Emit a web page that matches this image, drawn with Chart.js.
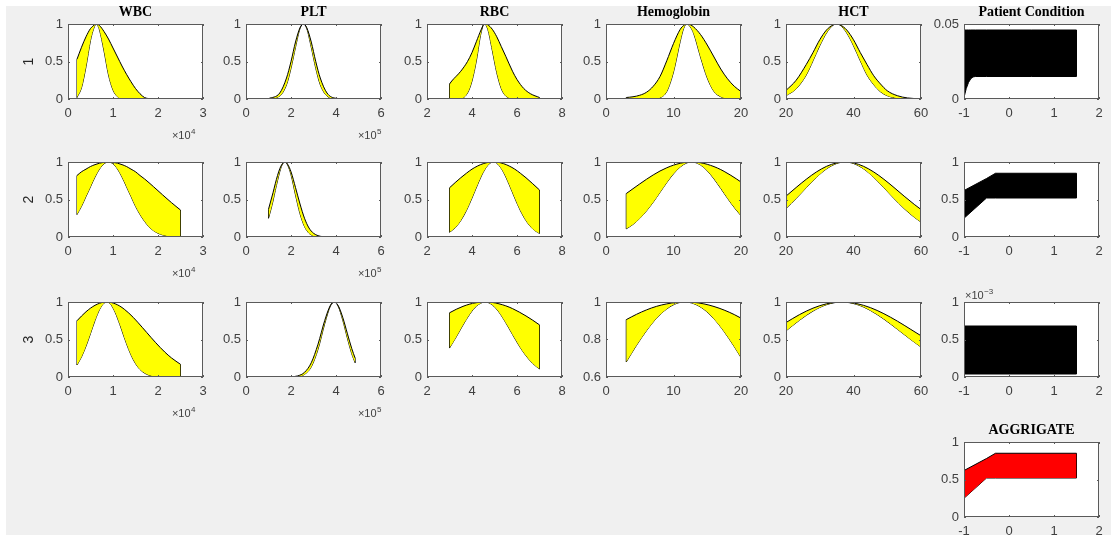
<!DOCTYPE html>
<html>
<head>
<meta charset="utf-8">
<script src="https://cdn.jsdelivr.net/npm/chart.js@4.4.1/dist/chart.umd.min.js"></script>
<style>
html, body { margin: 0; padding: 0; background: #fff; overflow: hidden; width: 1115px; height: 535px; }
#fig { position: absolute; left: 6px; top: 6px; width: 1105px; height: 529px; background: #f0f0f0; }
canvas { position: absolute; }
</style>
</head>
<body>
<div id="fig"></div>
<script>
// ---- row 1 ----
const wbc1X = [2000, 3000, 4000, 5000, 5500, 6000, 6300, 6600, 7000, 8000, 9000, 10000, 11000, 12000, 13000, 14000, 15000, 16000, 17000, 18000, 20000, 22000, 25000];
const wbc1Up = [0.53, 0.69, 0.83, 0.94, 0.97, 0.995, 1, 0.995, 0.98, 0.9, 0.8, 0.68, 0.56, 0.44, 0.33, 0.23, 0.14, 0.07, 0.02, 0.005, 0, 0, 0];
const wbc1Lo = [0.02, 0.15, 0.43, 0.78, 0.9, 0.98, 1, 0.98, 0.92, 0.64, 0.32, 0.12, 0.03, 0, 0, 0, 0, 0, 0, 0, 0, 0, 0];

const plt1X = [100000, 150000, 180000, 200000, 220000, 240000, 255000, 270000, 290000, 310000, 330000, 360000, 400000, 450000, 480000];
const plt1Up = [0.004, 0.08, 0.28, 0.5, 0.76, 0.95, 1, 0.95, 0.76, 0.5, 0.28, 0.08, 0.009, 0, 0];
const plt1Lo = [0, 0.04, 0.19, 0.41, 0.69, 0.94, 1, 0.94, 0.69, 0.41, 0.19, 0.04, 0.002, 0, 0];

const rbc1X = [3, 3.1, 3.5, 3.8, 4, 4.2, 4.4, 4.55, 4.7, 4.9, 5.1, 5.3, 5.5, 5.8, 6, 6.3, 6.6, 7];
const rbc1Up = [0.2, 0.24, 0.37, 0.5, 0.62, 0.77, 0.92, 1, 0.99, 0.93, 0.83, 0.7, 0.57, 0.37, 0.26, 0.14, 0.07, 0.02];
const rbc1Lo = [0, 0, 0.005, 0.08, 0.24, 0.52, 0.88, 1, 0.93, 0.65, 0.35, 0.14, 0.04, 0.005, 0, 0, 0, 0];

const hem1X = [3, 4, 5, 6, 7, 8, 9, 10, 11, 11.5, 12, 12.5, 13, 14, 15, 16, 17, 18, 19, 20];
const hem1Up = [0.02, 0.03, 0.05, 0.09, 0.17, 0.3, 0.51, 0.74, 0.93, 0.98, 1, 0.99, 0.96, 0.86, 0.72, 0.56, 0.4, 0.27, 0.17, 0.1];
const hem1Lo = [0, 0, 0, 0, 0.002, 0.017, 0.1, 0.36, 0.77, 0.94, 1, 0.96, 0.87, 0.56, 0.28, 0.1, 0.03, 0.006, 0, 0];

const hct1X = [20, 23, 26, 28, 30, 32, 34, 35, 36, 38, 40, 42, 44, 46, 48, 50, 53, 56, 60];
const hct1Up = [0.114, 0.25, 0.46, 0.62, 0.79, 0.92, 0.99, 1, 0.99, 0.92, 0.79, 0.62, 0.46, 0.31, 0.2, 0.11, 0.044, 0.014, 0.002];
const hct1Lo = [0.044, 0.135, 0.32, 0.51, 0.71, 0.88, 0.986, 1, 0.986, 0.88, 0.71, 0.51, 0.32, 0.19, 0.096, 0.044, 0.011, 0.002, 0];

const pc1X = [-1, -0.95, -0.9, -0.85, -0.8, -0.75, -0.5, 0, 0.5, 1, 1.5];
const pc1Up = [0.046, 0.046, 0.046, 0.046, 0.046, 0.046, 0.046, 0.046, 0.046, 0.046, 0.046];
const pc1Lo = [0.001, 0.007, 0.011, 0.0135, 0.0147, 0.015, 0.015, 0.015, 0.015, 0.015, 0.015];

// ---- row 2 ----
const wbc2X = [2000, 3000, 4000, 5000, 6000, 7000, 8000, 9000, 10000, 11000, 12000, 13000, 14000, 15000, 16000, 17000, 18000, 19000, 20000, 21000, 22000, 23000, 24000, 25000];
const wbc2Up = [0.82, 0.87, 0.905, 0.94, 0.965, 0.984, 0.996, 1, 0.996, 0.984, 0.965, 0.94, 0.905, 0.87, 0.82, 0.775, 0.724, 0.671, 0.617, 0.563, 0.51, 0.458, 0.408, 0.36];
const wbc2Lo = [0.3, 0.41, 0.54, 0.67, 0.8, 0.906, 0.976, 1, 0.976, 0.906, 0.8, 0.67, 0.54, 0.41, 0.3, 0.21, 0.135, 0.085, 0.05, 0.028, 0.015, 0.008, 0.004, 0.002];

const plt2X = [100000, 110000, 120000, 130000, 140000, 150000, 160000, 173000, 185000, 200000, 220000, 240000, 260000, 280000, 300000, 320000, 340000, 380000, 420000, 480000];
const plt2Up = [0.37, 0.48, 0.59, 0.71, 0.82, 0.91, 0.97, 1, 0.97, 0.87, 0.66, 0.44, 0.25, 0.12, 0.05, 0.018, 0.005, 0, 0, 0];
const plt2Lo = [0.25, 0.36, 0.48, 0.62, 0.75, 0.87, 0.96, 1, 0.96, 0.83, 0.56, 0.31, 0.14, 0.05, 0.015, 0.003, 0, 0, 0, 0];

const rbc2X = [3, 3.25, 3.5, 3.75, 4, 4.25, 4.5, 4.75, 4.95, 5.15, 5.4, 5.65, 5.9, 6.15, 6.4, 6.7, 7];
const rbc2Up = [0.656, 0.725, 0.79, 0.85, 0.905, 0.947, 0.978, 0.996, 1, 0.996, 0.978, 0.947, 0.905, 0.85, 0.79, 0.71, 0.627];
const rbc2Lo = [0.063, 0.123, 0.218, 0.352, 0.52, 0.7, 0.863, 0.971, 1, 0.971, 0.863, 0.7, 0.52, 0.352, 0.218, 0.108, 0.047];

const hem2X = [3, 4, 5, 6, 7, 8, 9, 10, 11, 12, 12.7, 13.5, 14.5, 15.5, 16.5, 17.5, 18.5, 19.3, 20];
const hem2Up = [0.579, 0.644, 0.708, 0.77, 0.828, 0.88, 0.923, 0.958, 0.983, 0.997, 1, 0.996, 0.981, 0.955, 0.92, 0.875, 0.822, 0.776, 0.733];
const hem2Lo = [0.109, 0.168, 0.248, 0.348, 0.465, 0.595, 0.725, 0.842, 0.934, 0.989, 1, 0.985, 0.927, 0.832, 0.712, 0.582, 0.453, 0.359, 0.285];

const hct2X = [20, 23, 26, 29, 32, 35, 37.5, 40, 43, 46, 49, 52, 55, 58, 60];
const hct2Up = [0.545, 0.66, 0.77, 0.867, 0.942, 0.988, 1, 0.988, 0.942, 0.867, 0.77, 0.66, 0.545, 0.435, 0.367];
const hct2Lo = [0.379, 0.513, 0.657, 0.795, 0.908, 0.98, 1, 0.98, 0.908, 0.795, 0.657, 0.513, 0.379, 0.264, 0.2];

const pc2X = [-1, -0.5, -0.3, 1.5];
const pc2Up = [0.62, 0.78, 0.85, 0.85];
const pc2Lo = [0.25, 0.52, 0.52, 0.52];

// ---- row 3 ----
const wbc3X = [2000, 3000, 4000, 5000, 6000, 7000, 8000, 8600, 9500, 10500, 11500, 12500, 13500, 14500, 15500, 16500, 17500, 18500, 19500, 20500, 21500, 23000, 25000];
const wbc3Up = [0.75, 0.813, 0.87, 0.918, 0.956, 0.983, 0.998, 1, 0.995, 0.976, 0.946, 0.904, 0.853, 0.795, 0.73, 0.662, 0.593, 0.524, 0.457, 0.393, 0.333, 0.254, 0.169];
const wbc3Lo = [0.16, 0.268, 0.411, 0.58, 0.753, 0.898, 0.985, 1, 0.967, 0.859, 0.702, 0.528, 0.365, 0.232, 0.135, 0.073, 0.036, 0.016, 0.007, 0.003, 0, 0, 0];

const plt3X = [100000, 150000, 200000, 230000, 260000, 290000, 320000, 350000, 375000, 392000, 410000, 430000, 450000, 470000, 485000];
const plt3Up = [0, 0, 0.003, 0.015, 0.062, 0.19, 0.437, 0.755, 0.955, 1, 0.95, 0.794, 0.585, 0.379, 0.252];
const plt3Lo = [0, 0, 0.001, 0.006, 0.035, 0.135, 0.369, 0.712, 0.946, 1, 0.94, 0.758, 0.524, 0.31, 0.19];

const rbc3X = [3, 3.3, 3.6, 3.9, 4.2, 4.58, 4.9, 5.2, 5.5, 5.8, 6.1, 6.4, 6.7, 7];
const rbc3Up = [0.856, 0.903, 0.942, 0.972, 0.991, 1, 0.994, 0.976, 0.949, 0.912, 0.866, 0.814, 0.757, 0.695];
const rbc3Lo = [0.386, 0.535, 0.693, 0.838, 0.946, 1, 0.962, 0.864, 0.724, 0.567, 0.414, 0.283, 0.18, 0.107];

const hem3X = [3, 4.5, 6, 7.5, 9, 10.5, 11.7, 13, 14.5, 16, 17.5, 19, 20];
const hem3Up = [0.906, 0.934, 0.958, 0.977, 0.99, 0.998, 1, 0.998, 0.99, 0.976, 0.957, 0.933, 0.914];
const hem3Lo = [0.68, 0.768, 0.847, 0.914, 0.963, 0.993, 1, 0.991, 0.961, 0.91, 0.842, 0.762, 0.704];

const hct3X = [20, 24, 28, 32, 36.5, 41, 45, 49, 53, 57, 60];
const hct3Up = [0.726, 0.832, 0.918, 0.976, 1, 0.978, 0.925, 0.844, 0.745, 0.634, 0.55];
const hct3Lo = [0.615, 0.757, 0.879, 0.964, 1, 0.967, 0.887, 0.772, 0.637, 0.498, 0.4];

const pc3X = [-1, 1.5];
const pc3Up = [0.00068, 0.00068];
const pc3Lo = [0.00004, 0.00004];

// ---- aggregate ----
const aggX = [-1, -0.5, -0.3, 1.5];
const aggUp = [0.62, 0.78, 0.85, 0.85];
const aggLo = [0.25, 0.52, 0.52, 0.52];

// layout of the subplot grid (pixel positions of the axes boxes)
const colLeft = [68, 246, 427, 606, 786, 964];
const rowTop = [24, 162, 302, 442];
const plotW = 135, plotH = 75;
const padL = 62, padT = 26, padB = 45;

const tickColor = '#404040';
const sans = '"Liberation Sans", Arial, sans-serif';
const fmt = v => String(Math.round(v * 1e6) / 1e6);

const xAxes = {
  WBC: { min: 0, max: 30000, step: 10000, scale: v => v / 1e4, exp: { base: '×10', sup: '4', dx: -8 } },
  PLT: { min: 0, max: 600000, step: 200000, scale: v => v / 1e5, exp: { base: '×10', sup: '5', dx: 0 } },
  RBC: { min: 2, max: 8, step: 2 },
  HGB: { min: 0, max: 20, step: 10 },
  HCT: { min: 20, max: 60, step: 20 },
  PC: { min: -1, max: 2, step: 1 }
};

const plots = [
  { row: 0, col: 0, title: 'WBC', axis: 'WBC', xs: wbc1X, up: wbc1Up, lo: wbc1Lo },
  { row: 0, col: 1, title: 'PLT', axis: 'PLT', xs: plt1X, up: plt1Up, lo: plt1Lo },
  { row: 0, col: 2, title: 'RBC', axis: 'RBC', xs: rbc1X, up: rbc1Up, lo: rbc1Lo },
  { row: 0, col: 3, title: 'Hemoglobin', axis: 'HGB', xs: hem1X, up: hem1Up, lo: hem1Lo },
  { row: 0, col: 4, title: 'HCT', axis: 'HCT', xs: hct1X, up: hct1Up, lo: hct1Lo },
  { row: 0, col: 5, title: 'Patient Condition', axis: 'PC', xs: pc1X, up: pc1Up, lo: pc1Lo, color: '#000000', yMax: 0.05, yStep: 0.05, straight: true },
  { row: 1, col: 0, axis: 'WBC', xs: wbc2X, up: wbc2Up, lo: wbc2Lo },
  { row: 1, col: 1, axis: 'PLT', xs: plt2X, up: plt2Up, lo: plt2Lo },
  { row: 1, col: 2, axis: 'RBC', xs: rbc2X, up: rbc2Up, lo: rbc2Lo },
  { row: 1, col: 3, axis: 'HGB', xs: hem2X, up: hem2Up, lo: hem2Lo },
  { row: 1, col: 4, axis: 'HCT', xs: hct2X, up: hct2Up, lo: hct2Lo },
  { row: 1, col: 5, axis: 'PC', xs: pc2X, up: pc2Up, lo: pc2Lo, color: '#000000', straight: true },
  { row: 2, col: 0, axis: 'WBC', xs: wbc3X, up: wbc3Up, lo: wbc3Lo },
  { row: 2, col: 1, axis: 'PLT', xs: plt3X, up: plt3Up, lo: plt3Lo },
  { row: 2, col: 2, axis: 'RBC', xs: rbc3X, up: rbc3Up, lo: rbc3Lo },
  { row: 2, col: 3, axis: 'HGB', xs: hem3X, up: hem3Up, lo: hem3Lo, yMin: 0.6, yStep: 0.2 },
  { row: 2, col: 4, axis: 'HCT', xs: hct3X, up: hct3Up, lo: hct3Lo },
  { row: 2, col: 5, axis: 'PC', xs: pc3X, up: pc3Up, lo: pc3Lo, color: '#000000', yMax: 0.001, yStep: 0.0005, yScale: v => v * 1000, yExp: { base: '×10', sup: '−3', top: true }, straight: true },
  { row: 3, col: 5, title: 'AGGRIGATE', axis: 'PC', xs: aggX, up: aggUp, lo: aggLo, color: '#ff0000', straight: true }
];

// white axes background, box with inward ticks, exponent labels
const framePlugin = {
  id: 'frame',
  beforeDraw(chart) {
    const a = chart.chartArea, ctx = chart.ctx;
    ctx.save();
    ctx.fillStyle = '#ffffff';
    ctx.fillRect(a.left, a.top, a.right - a.left, a.bottom - a.top);
    ctx.restore();
  },
  afterDraw(chart, args, opts) {
    const a = chart.chartArea, ctx = chart.ctx;
    const xs = chart.scales.x, ys = chart.scales.y;
    ctx.save();
    ctx.strokeStyle = '#5a5a5a';
    ctx.lineWidth = 1;
    ctx.beginPath();
    xs.ticks.forEach(t => {
      const p = Math.round(xs.getPixelForValue(t.value)) + 0.5;
      ctx.moveTo(p, a.bottom); ctx.lineTo(p, a.bottom - 2);
      ctx.moveTo(p, a.top); ctx.lineTo(p, a.top + 2);
    });
    ys.ticks.forEach(t => {
      const p = Math.round(ys.getPixelForValue(t.value)) + 0.5;
      ctx.moveTo(a.left, p); ctx.lineTo(a.left + 2, p);
      ctx.moveTo(a.right, p); ctx.lineTo(a.right - 2, p);
    });
    ctx.stroke();
    ctx.strokeRect(a.left + 0.5, a.top + 0.5, a.right - a.left - 1, a.bottom - a.top - 1);

    const labels = opts.labels || [];
    labels.forEach(e => {
      const baseFont = '11px ' + sans, supFont = '8px ' + sans;
      ctx.fillStyle = tickColor;
      ctx.textBaseline = 'middle';
      ctx.textAlign = 'left';
      ctx.font = baseFont;
      const wb = ctx.measureText(e.base).width;
      ctx.font = supFont;
      const ws = ctx.measureText(e.sup).width;
      let x0, yc;
      if (e.top) { x0 = a.left + 1; yc = a.top - 6; }
      else { x0 = a.right + e.dx - wb - ws; yc = a.bottom + 37; }
      ctx.font = baseFont;
      ctx.fillText(e.base, x0, yc);
      ctx.font = supFont;
      ctx.fillText(e.sup, x0 + wb + 0.5, yc - 4);
    });
    ctx.restore();
  }
};
Chart.register(framePlugin);

function makeChart(p) {
  const ax = xAxes[p.axis];
  const cv = document.createElement('canvas');
  cv.width = plotW + 2 * padL;
  cv.height = padT + plotH + padB;
  cv.style.left = (colLeft[p.col] - padL) + 'px';
  cv.style.top = (rowTop[p.row] - padT) + 'px';
  document.body.appendChild(cv);

  const color = p.color || '#ffff00';
  const mode = p.straight ? 'default' : 'monotone';
  const pts = ys => p.xs.map((x, i) => ({ x: x, y: ys[i] }));
  const n = p.xs.length - 1;
  const edge = { borderColor: '#000000', borderWidth: 1, pointRadius: 0, tension: 0, fill: false };

  const expLabels = [];
  if (ax.exp) expLabels.push(ax.exp);
  if (p.yExp) expLabels.push(p.yExp);

  const tickFont = { family: sans, size: 13 };

  new Chart(cv.getContext('2d'), {
    type: 'line',
    data: {
      datasets: [
        { data: pts(p.up), fill: '+1', backgroundColor: color, borderColor: '#000000', borderWidth: 1, pointRadius: 0, tension: 0, cubicInterpolationMode: mode },
        { data: pts(p.lo), fill: false, borderColor: '#000000', borderWidth: 1, pointRadius: 0, tension: 0, cubicInterpolationMode: mode },
        Object.assign({ data: [{ x: p.xs[0], y: p.lo[0] }, { x: p.xs[0], y: p.up[0] }] }, edge),
        Object.assign({ data: [{ x: p.xs[n], y: p.lo[n] }, { x: p.xs[n], y: p.up[n] }] }, edge)
      ]
    },
    options: {
      responsive: false,
      animation: false,
      devicePixelRatio: 1,
      events: [],
      layout: { padding: { left: 0, right: padL, top: 0, bottom: 0 } },
      plugins: {
        legend: { display: false },
        tooltip: { enabled: false },
        title: {
          display: true,
          fullSize: false,
          text: p.title || '',
          color: '#000000',
          font: { family: '"Liberation Serif", "Times New Roman", serif', size: 14, weight: 'bold', lineHeight: 1 },
          padding: { top: 7, bottom: 5 }
        },
        frame: { labels: expLabels }
      },
      scales: {
        x: {
          type: 'linear',
          min: ax.min,
          max: ax.max,
          ticks: {
            stepSize: ax.step, autoSkip: false, maxRotation: 0, padding: 7,
            color: tickColor, font: tickFont,
            callback: v => fmt(ax.scale ? ax.scale(v) : v)
          },
          grid: { display: false, drawTicks: false },
          border: { display: false },
          afterFit: s => { s.height = padB; }
        },
        y: {
          type: 'linear',
          min: p.yMin !== undefined ? p.yMin : 0,
          max: p.yMax !== undefined ? p.yMax : 1,
          ticks: {
            stepSize: p.yStep || 0.5, autoSkip: false, padding: 5,
            color: tickColor, font: tickFont,
            callback: v => fmt(p.yScale ? p.yScale(v) : v)
          },
          grid: { display: false, drawTicks: false },
          border: { display: false },
          title: {
            display: p.col === 0,
            text: String(p.row + 1),
            color: '#262626',
            font: { family: sans, size: 14, lineHeight: 1 },
            padding: { top: 16, bottom: 0 }
          },
          afterFit: s => { s.width = padL; }
        }
      }
    }
  });
}

plots.forEach(makeChart);
</script>
</body>
</html>
